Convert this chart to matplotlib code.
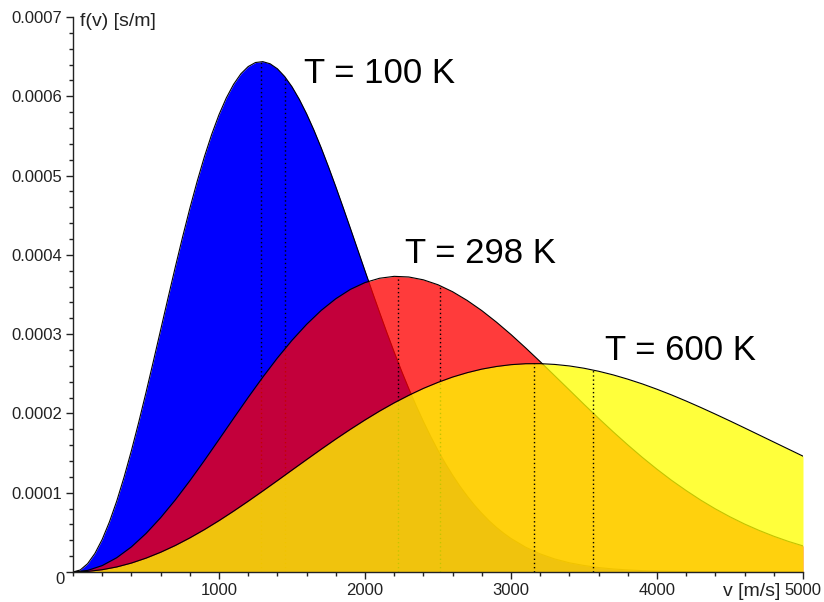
import numpy as np
import matplotlib
matplotlib.use("Agg")
import matplotlib.pyplot as plt
from matplotlib.ticker import MultipleLocator, FixedLocator

# ---- data (speed in m/s, f(v) in units of 1e-4 s/m) ----
speeds = np.arange(0, 5100, 100)
# the narrow T = 100 K curve is read more densely below 3000 m/s
speeds_100 = np.concatenate([np.arange(0, 3050, 50), np.arange(3100, 5100, 100)])

f_100 = [0, 0.026, 0.105, 0.234, 0.411, 0.634, 0.897, 1.198, 1.530, 1.887,
         2.264, 2.654, 3.051, 3.449, 3.841, 4.221, 4.584, 4.924, 5.238, 5.520,
         5.768, 5.979, 6.151, 6.284, 6.375, 6.426, 6.437, 6.410, 6.347, 6.249,
         6.120, 5.962, 5.779, 5.574, 5.350, 5.110, 4.859, 4.599, 4.334, 4.066,
         3.798, 3.533, 3.273, 3.018, 2.773, 2.537, 2.312, 2.099, 1.898, 1.709,
         1.533, 1.371, 1.221, 1.083, 0.958, 0.843, 0.740, 0.646, 0.563, 0.489,
         0.423,
         0.313, 0.228, 0.164, 0.116, 0.082, 0.056, 0.038, 0.026, 0.017, 0.011,
         0.007, 0.005, 0.003, 0.002, 0.001, 0.001, 0.000, 0.000, 0.000, 0.000]

f_298 = [0, 0.020, 0.081, 0.181, 0.317, 0.486, 0.685, 0.908, 1.151, 1.407, 1.672,
         1.939, 2.203, 2.458, 2.700, 2.923, 3.124, 3.300, 3.447, 3.565, 3.651,
         3.705, 3.729, 3.721, 3.685, 3.623, 3.535, 3.425, 3.297, 3.152, 2.995,
         2.827, 2.653, 2.474, 2.295, 2.115, 1.939, 1.768, 1.603, 1.445, 1.296,
         1.156, 1.027, 0.906, 0.796, 0.696, 0.605, 0.524, 0.451, 0.386, 0.329]

f_600 = [0, 0.007, 0.029, 0.064, 0.113, 0.175, 0.249, 0.334, 0.430, 0.535, 0.648,
         0.768, 0.893, 1.022, 1.153, 1.286, 1.418, 1.549, 1.677, 1.800, 1.918,
         2.030, 2.134, 2.229, 2.316, 2.392, 2.459, 2.514, 2.559, 2.592, 2.615,
         2.627, 2.628, 2.618, 2.599, 2.570, 2.532, 2.486, 2.432, 2.372, 2.305,
         2.233, 2.156, 2.075, 1.991, 1.905, 1.817, 1.728, 1.639, 1.550, 1.461]

temps = ["T = 100 K", "T = 298 K", "T = 600 K"]
v_probable = [1290, 2226, 3159]
f_probable = [6.44, 3.73, 2.63]
v_mean = [1455, 2512, 3564]
f_mean = [6.24, 3.61, 2.55]
label_x = [1582, 2274, 3644]
label_y = [6.17, 3.90, 2.67]

y_tick_vals = [0, 0.0001, 0.0002, 0.0003, 0.0004, 0.0005, 0.0006, 0.0007]
y_tick_labels = ["", "0.0001", "0.0002", "0.0003", "0.0004", "0.0005", "0.0006", "0.0007"]
x_tick_vals = [1000, 2000, 3000, 4000, 5000]
x_tick_labels = ["1000", "2000", "3000", "4000", "5000"]

# ---- styling ----
plt.rcParams['font.family'] = ['Liberation Sans', 'DejaVu Sans']
fills = [("#0000FF", 1.0), ("#FF0000", 0.77), ("#FFFF00", 0.77)]

fig = plt.figure(figsize=(8.24, 6.02), dpi=100)
ax = fig.add_axes([73/824, 1 - 572/602, 730/824, 555/602])

scale = 1e-4
series = [(speeds_100, f_100), (speeds, f_298), (speeds, f_600)]
for i, (vx, f) in enumerate(series):
    fv = np.asarray(f) * scale
    col, a = fills[i]
    z = 1 + i
    ax.fill_between(vx, 0, fv, color=col, alpha=a, lw=0, zorder=z)
    ax.plot([v_probable[i]] * 2, [0, f_probable[i] * scale], color="black",
            lw=1.0, ls=(0, (1, 2)), zorder=z + 0.1)
    ax.plot([v_mean[i]] * 2, [0, f_mean[i] * scale], color="black",
            lw=1.0, ls=(0, (1, 2)), zorder=z + 0.1)
    ax.plot(vx, fv, color="black", lw=0.8, zorder=z + 0.2)
    ax.text(label_x[i], label_y[i] * scale, temps[i], fontsize=25,
            ha="left", va="baseline", zorder=10)

ax.set_xlim(0, 5000)
ax.set_ylim(0, 0.0007)

for s in ["top", "right"]:
    ax.spines[s].set_visible(False)
for s in ["left", "bottom"]:
    ax.spines[s].set_linewidth(1.0)
    ax.spines[s].set_color("#222222")
    ax.spines[s].set_zorder(20)

ax.yaxis.set_major_locator(FixedLocator(y_tick_vals))
ax.set_yticklabels(y_tick_labels)
ax.yaxis.set_minor_locator(MultipleLocator(0.00002))
ax.xaxis.set_major_locator(FixedLocator(x_tick_vals))
ax.set_xticklabels(x_tick_labels)
ax.xaxis.set_minor_locator(MultipleLocator(200))

ax.tick_params(axis="both", which="major", length=5, width=1, labelsize=12,
               color="#222222", labelcolor="#222222", pad=3)
ax.tick_params(axis="both", which="minor", length=3, width=1, color="#222222")

ax.annotate("0", xy=(0, 0), xycoords="axes fraction", xytext=(-13, -8),
            textcoords="offset pixels", ha="center", va="center",
            fontsize=12, color="#222222")
ax.annotate("f(v) [s/m]", xy=(0, 1), xycoords="axes fraction", xytext=(7, 4),
            textcoords="offset pixels", ha="left", va="top",
            fontsize=14, color="#222222")
ax.annotate("v [m/s]", xy=(1, 0), xycoords="axes fraction", xytext=(-80, -11),
            textcoords="offset pixels", ha="left", va="top",
            fontsize=14, color="#222222")

fig.savefig("out.png", dpi=100)
